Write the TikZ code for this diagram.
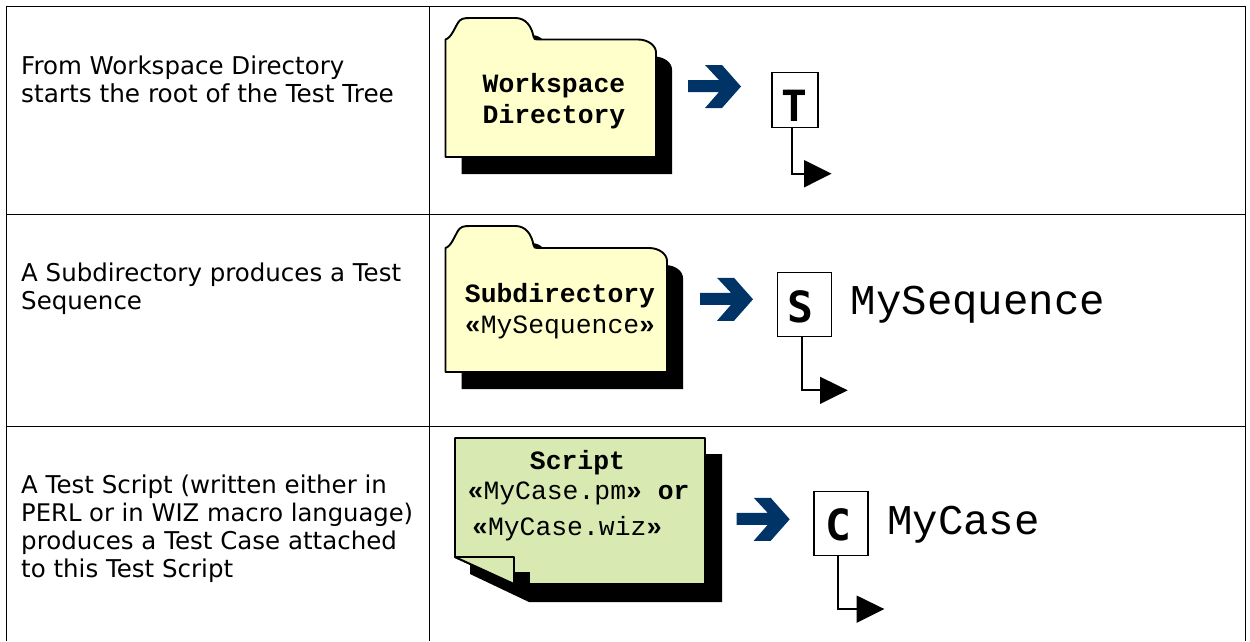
\documentclass[tikz,border=0pt]{standalone}
\usepackage{fontspec}
\setmainfont{DejaVu Sans}
\setmonofont{Liberation Mono}
\newfontfamily\boxfont{DejaVu Sans Mono}
\tikzset{
  grid line/.style={draw=black,line width=1.7pt},
  body text/.style={anchor=west,align=left,inner sep=0pt,font=\fontsize{24.5}{28}\selectfont},
  mono text/.style={anchor=center,align=left,inner sep=0pt,font=\ttfamily\fontsize{26.4}{30.5}\selectfont},
  name text/.style={anchor=west,inner sep=0pt,font=\ttfamily\fontsize{42.4}{46}\selectfont},
  kind box/.style={draw=black,fill=white,line width=1.9pt,inner sep=0pt},
  kind letter/.style={inner sep=0pt,font=\boxfont\bfseries\fontsize{43}{43}\selectfont},
  outline/.style={draw=black,line width=1.9pt,line join=round},
  shadow fill/.style={fill=black},
  blue arrow/.style={fill=arrowblue},
  link/.style={draw=black,line width=1.8pt},
  tip/.style={fill=black}
}
\definecolor{arrowblue}{RGB}{0,51,102}
\definecolor{folderyellow}{RGB}{255,255,204}
\definecolor{notegreen}{RGB}{216,233,178}
% #1 left, #2 tab top, #3 shoulder, #4 right, #5 bottom
\newcommand{\folderpath}[5]{(#1,#3) .. controls (#1+6,#3-2) and (#1+9,#2+10) .. (#1+13,#2+4)
  .. controls (#1+15,#2+1) and (#1+18,#2) .. (#1+24,#2) -- (#1+70,#2)
  .. controls (#1+80,#2) and (#1+86,#2+8) .. (#1+88,#3-3)
  .. controls (#1+88,#3) and (#1+90,#3) .. (#1+93,#3)
  -- (#4-18,#3) .. controls (#4-8,#3) and (#4,#3+6) .. (#4,#3+13) -- (#4,#5) -- (#1,#5) -- cycle}
\newcommand{\arrowat}[2]{
  \fill[blue arrow,shift={(#1,#2)}] (0,-6.5) -- (31,-6.5) -- (17,-21.5) -- (34,-21.5) -- (53,0)
   -- (34,21.5) -- (17,21.5) -- (31,5.5) -- (0,5.5) -- cycle;}
\begin{document}
\begin{tikzpicture}[x=1pt,y=-1pt]
\useasboundingbox (0,0) rectangle (1250,641);
% table
\draw[grid line] (6,6.5) -- (1246,6.5);
\draw[grid line] (6,214.5) -- (1246,214.5);
\draw[grid line] (6,426.5) -- (1246,426.5);
\draw[grid line] (6.5,6.5) -- (6.5,641);
\draw[grid line] (429.5,6.5) -- (429.5,641);
\draw[grid line] (1245.5,6.5) -- (1245.5,641);
% left column
\node[body text] (t1) at (21,79) {From Workspace Directory\\{\fontsize{24.75}{28}\selectfont starts the root of the Test Tree}};
\node[body text] (t2) at (21,289) {A Subdirectory produces a Test\\Sequence};
\node[body text] (t3) at (21,529) {A Test Script (written either in\\{\fontsize{24.25}{28}\selectfont PERL or in WIZ macro language)}\\produces a Test Case attached\\to this Test Script};
% row 1
\begin{scope}[shift={(16,17)}]
\fill[shadow fill] \folderpath{445.5}{18}{39.5}{656}{157};
\end{scope}
\draw[outline,fill=folderyellow] \folderpath{445.5}{18}{39.5}{656}{157};
\node[mono text,align=center] (f1) at (554,101) {\textbf{Workspace}\\\textbf{Directory}};
\arrowat{688}{86.5}
\node[kind box,minimum width=46pt,minimum height=55pt] (bt) at (795,100) {};
\node[kind letter] (lt) at (794.8,106) {T};
\coordinate (tt) at (804,173.7);
\draw[link] (bt.south -| 792,0) |- (tt);
\fill[tip] (804,160) -- (831.5,173.7) -- (804,187.5) -- cycle;
% row 2
\begin{scope}[shift={(16,17)}]
\fill[shadow fill] \folderpath{445.5}{226}{248}{667}{372};
\end{scope}
\draw[outline,fill=folderyellow] \folderpath{445.5}{226}{248}{667}{372};
\node[mono text,align=center] (f2) at (560,311) {\textbf{Subdirectory}\\\textbf{«}MySequence\textbf{»}};
\arrowat{700}{299.3}
\node[kind box,minimum width=54pt,minimum height=64pt] (bs) at (804.5,304.5) {};
\node[kind letter] (ls) at (800.5,307) {S};
\coordinate (ts) at (820,390.3);
\draw[link] (bs.south -| 801.7,0) |- (ts);
\fill[tip] (820,376.7) -- (847.7,390.3) -- (820,404) -- cycle;
\node[name text] (ns) at (850.5,305) {MySequence};
% row 3
\fill[shadow fill] (471,454) -- (722,454) -- (722,602) -- (529,602) -- (470,574) -- cycle;
\draw[outline,fill=notegreen] (455,438) -- (705,438) -- (705,584) -- (514,584) -- (455,557) -- cycle;
\fill[shadow fill] (514,572) rectangle (530,585);
\draw[outline,fill=notegreen] (455,557) -- (514,557) -- (514,584) -- cycle;
\node[mono text] (s1) at (577.5,463) {\textbf{Script}};
\node[mono text,anchor=west] (s2) at (467.5,493) {\textbf{«}MyCase.pm\textbf{»} \textbf{or}};
\node[mono text,anchor=west] (s3) at (472,529) {\textbf{«}MyCase.wiz\textbf{»}};
\arrowat{736.7}{519.3}
\node[kind box,minimum width=54pt,minimum height=64pt] (bc) at (841,523.5) {};
\node[kind letter] (lc) at (838,525) {C};
\coordinate (tc) at (856.7,609);
\draw[link] (bc.south -| 838,0) |- (tc);
\fill[tip] (856.7,595.5) -- (884.3,609) -- (856.7,622.8) -- cycle;
\node[name text] (nc) at (887,525) {MyCase};
\end{tikzpicture}
\end{document}
